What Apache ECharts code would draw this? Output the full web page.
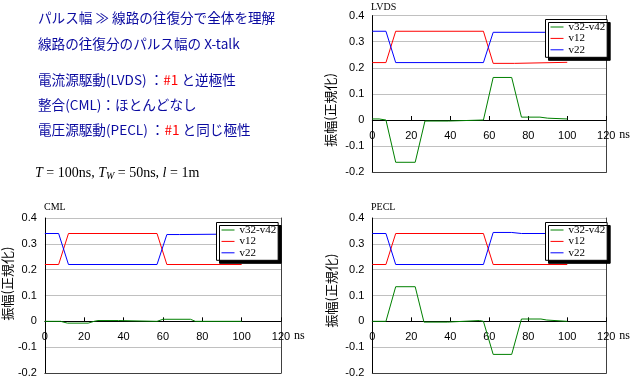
<!DOCTYPE html>
<html>
<head>
<meta charset="utf-8">
<script src="https://cdn.jsdelivr.net/npm/echarts@6/dist/echarts.min.js"></script>
<style>
html,body{margin:0;padding:0;background:#fff;}
#chart{width:631px;height:382px;}
</style>
</head>
<body>
<div id="chart"></div>
<script>
// ---- data (x in ns, y normalized amplitude) ----
const seriesNames = ['v32-v42', 'v12', 'v22'];
const panelTitles = ['LVDS', 'CML', 'PECL'];
const xTickValues = [0, 20, 40, 60, 80, 100, 120];
const yTickValues = [-0.2, -0.1, 0, 0.1, 0.2, 0.3, 0.4];

const lvds_v32v42 = [[0,0.004],[3.5,0.004],[3.6,0],[7,0],[12,-0.162],[22,-0.162],[27,-0.004],[39,-0.004],[39.5,0],[57,0],[62,0.163],[71.5,0.163],[76.5,0.011],[86,0.011],[86.5,0.007],[90,0.007],[90.5,0.004],[100,0.004]];
const lvds_v12 = [[0,0.22],[7,0.22],[12,0.34],[57,0.34],[62,0.217],[73,0.217],[73.5,0.221],[100,0.221]];
const lvds_v22 = [[0,0.34],[7,0.34],[12,0.22],[57,0.22],[62,0.336],[100,0.336]];

const cml_v32v42 = [[0,0],[8,0],[11.5,-0.007],[22,-0.007],[25,0],[27,0.003],[37.5,0.003],[38,0],[57,0],[60,0.008],[74,0.008],[76.5,0],[100,0]];
const cml_v12 = [[0,0.22],[7,0.22],[12,0.34],[57,0.34],[62,0.22],[100,0.22]];
const cml_v22 = [[0,0.34],[7,0.34],[12,0.22],[57,0.22],[62,0.336],[68.5,0.336],[69,0.338],[100,0.338]];

const pecl_v32v42 = [[0,0],[7,0],[12,0.134],[22,0.134],[26.5,-0.003],[38.5,-0.003],[39,0.003],[55,0.003],[55.5,0],[57,0],[62,-0.128],[71.5,-0.128],[76.5,0.009],[86.5,0.009],[87,0.005],[89.5,0.005],[90,0],[100,0]];
const pecl_v12 = [[0,0.22],[7,0.22],[12,0.34],[57,0.34],[62,0.22],[100,0.22]];
const pecl_v22 = [[0,0.34],[7,0.34],[12,0.22],[57,0.22],[62,0.344],[71.5,0.344],[76.5,0.34],[100,0.34]];

const panelData = [
  [lvds_v32v42, lvds_v12, lvds_v22],
  [cml_v32v42, cml_v12, cml_v22],
  [pecl_v32v42, pecl_v12, pecl_v22]
];

// ---- layout / style ----
const colors = ['#008000', '#ff0000', '#0000ff'];
const panels = [
  {grid:{left:372.3, top:15.6, width:238.4, height:156.6}, title:{left:371, top:2.5}, legend:{left:545.5, top:19.5}, nameGap:7, yNameGap:36, yNamePad:[0,32,0,0]},
  {grid:{left:42.3, top:218, width:238.7, height:155}, title:{left:44, top:202}, legend:{left:216.5, top:222.5}, nameGap:12, yNameGap:30, yNamePad:[0,0,0,24]},
  {grid:{left:372.3, top:218, width:238.4, height:155}, title:{left:371, top:202}, legend:{left:545.5, top:222.5}, nameGap:8, yNameGap:35, yNamePad:[0,0,0,10]}
];

const BLUE = '#0a0aa0';
const cjk = '"Noto Sans CJK JP", "Noto Sans CJK SC", sans-serif';
const yMin = yTickValues[0], yMax = yTickValues[yTickValues.length-1];

const option = {
  animation: false,
  backgroundColor: '#fff',
  grid: [], xAxis: [], yAxis: [], series: [], legend: [], title: [],
  graphic: []
};

panels.forEach((p, i) => {
  option.grid.push(Object.assign({containLabel:false}, p.grid));
  option.title.push({
    text: panelTitles[i], left: p.title.left, top: p.title.top, padding: 0,
    textStyle: {fontFamily:'"Liberation Serif", serif', fontSize:10, fontWeight:'normal', color:'#000'}
  });
  const zeroOffset = -p.grid.height * (0 - yMin) / (yMax - yMin);
  const mainX = option.xAxis.length;
  option.xAxis.push({
    type:'value', gridIndex:i, min:xTickValues[0], max:xTickValues[xTickValues.length-1], interval:20,
    position:'bottom', offset: zeroOffset,
    axisLine:{show:true, onZero:false, lineStyle:{color:'#000', width:1}},
    axisTick:{show:true, inside:true, length:4, lineStyle:{color:'#000'}},
    axisLabel:{margin:10, fontSize:11, fontFamily:'"Liberation Sans", Arial, sans-serif', color:'#000'},
    splitLine:{show:false},
    name:'ns', nameLocation:'end', nameGap:p.nameGap,
    nameTextStyle:{fontFamily:'"Liberation Serif", serif', fontSize:12, color:'#000', verticalAlign:'top', padding:[9,0,0,0]}
  });
  option.xAxis.push({
    type:'value', gridIndex:i, min:0, max:120, position:'bottom', offset:0,
    axisLine:{show:true, onZero:false, lineStyle:{color:'#404040', width:1}},
    axisTick:{show:false}, axisLabel:{show:false}, splitLine:{show:false}
  });
  const mainY = option.yAxis.length;
  option.yAxis.push({
    type:'value', gridIndex:i, min:yMin, max:yMax, interval:0.1, position:'left',
    axisLine:{show:true, onZero:false, lineStyle:{color:'#000', width:1}},
    axisTick:{show:false},
    axisLabel:{margin:8, fontSize:11, fontFamily:'"Liberation Sans", Arial, sans-serif', color:'#000',
      formatter: v => String(Math.round(v*10)/10)},
    splitLine:{show:true, lineStyle:{color:'#c0c0c0', width:1}},
    name:'振幅(正規化)', nameLocation:'middle', nameGap:p.yNameGap,
    nameTextStyle:{fontFamily:cjk, fontSize:13, color:'#000', padding:p.yNamePad}
  });
  option.yAxis.push({
    type:'value', gridIndex:i, min:yMin, max:yMax, position:'right',
    axisLine:{show:true, onZero:false, lineStyle:{color:'#404040', width:1}},
    axisTick:{show:false}, axisLabel:{show:false}, splitLine:{show:false}
  });
  seriesNames.forEach((nm, k) => {
    option.series.push({
      type:'line', name:nm, xAxisIndex:mainX, yAxisIndex:mainY,
      data: panelData[i][k], symbol:'none', showSymbol:false,
      lineStyle:{color:colors[k], width:1}, itemStyle:{color:colors[k]},
      z: 3, silent:true
    });
  });
  option.legend.push({
    orient:'vertical', left:p.legend.left, top:p.legend.top,
    data: seriesNames, selectedMode:false,
    icon:'path://M0,0H13V1H0Z',
    itemWidth:13, itemHeight:11, itemGap:0.4,
    textStyle:{fontFamily:'"Liberation Serif", serif', fontSize:11, lineHeight:11, color:'#000'},
    backgroundColor:'#fff', borderColor:'#000', borderWidth:1,
    padding:[2,2,2,5],
    shadowColor:'#000', shadowBlur:0, shadowOffsetX:3, shadowOffsetY:3
  });
});

// ---- top-left text block ----
const textLines = [
  {y:17.5, text:'パルス幅 ≫ 線路の往復分で全体を理解'},
  {y:44, text:'線路の往復分のパルス幅の X-talk'},
  {y:79.5, text:'電流源駆動(LVDS) ：{r|#1} と逆極性'},
  {y:105, text:'整合(CML)：ほとんどなし'},
  {y:130, text:'電圧源駆動(PECL) ：{r|#1} と同じ極性'}
];
textLines.forEach(l => {
  option.graphic.push({
    type:'text', x:38, y:l.y, silent:true,
    style:{text:l.text, fill:BLUE, fontSize:13.6, fontFamily:cjk, verticalAlign:'middle',
      rich:{r:{fill:'#ff0000', fontSize:13.6, fontFamily:cjk}}}
  });
});
option.graphic.push({
  type:'text', x:35, y:173.5, silent:true,
  style:{
    text:'{i|T} = 100ns, {i|T}{s|W} = 50ns, {i|l} = 1m',
    fill:'#000', fontSize:14, fontFamily:'"Liberation Serif", serif', lineHeight:16, verticalAlign:'middle',
    rich:{
      i:{fontStyle:'italic', fontSize:14, fontFamily:'"Liberation Serif", serif', lineHeight:16, fill:'#000'},
      s:{fontStyle:'italic', fontSize:10, fontFamily:'"Liberation Serif", serif', lineHeight:10, verticalAlign:'bottom', fill:'#000'}
    }
  }
});

const chart = echarts.init(document.getElementById('chart'), null, {renderer:'canvas'});
chart.setOption(option);
</script>
</body>
</html>
